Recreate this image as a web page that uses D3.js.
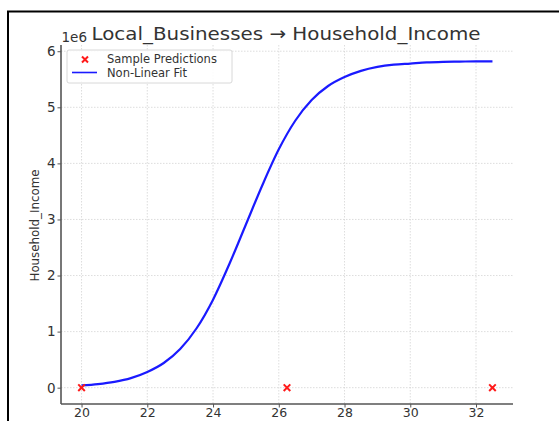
<!DOCTYPE html>
<html>
<head>
<meta charset="utf-8">
<script src="https://cdn.jsdelivr.net/npm/d3@7"></script>
<style>
  html, body { margin: 0; padding: 0; background: #fff; }
  svg { display: block; font-family: "DejaVu Sans", sans-serif; }
</style>
</head>
<body>
<svg id="chart" width="559" height="421"></svg>
<script>
// Fitted curve, sampled every half unit of Local_Businesses (income in millions)
const fitX = [20, 20.5, 21, 21.5, 22, 22.5, 23, 23.5, 24, 24.5, 25, 25.5, 26,
              26.5, 27, 27.5, 28, 28.5, 29, 29.5, 30, 30.5, 31, 31.5, 32, 32.5];
const fitY = [0.04, 0.065, 0.105, 0.17, 0.28, 0.44, 0.69, 1.06, 1.57, 2.21, 2.91, 3.61, 4.25,
              4.76, 5.13, 5.38, 5.54, 5.65, 5.72, 5.76, 5.78, 5.80, 5.81, 5.815, 5.82, 5.82];

// Sample predictions
const sampleX = [20, 26.25, 32.5];
const sampleY = [0, 0, 0];

const xTicks = [20, 22, 24, 26, 28, 30, 32];
const yTicks = [0, 1, 2, 3, 4, 5, 6];

const titleText = "Local_Businesses \u2192 Household_Income";
const yLabel = "Household_Income";
const legendLabels = ["Sample Predictions", "Non-Linear Fit"];

const svg = d3.select("#chart");

// outer frame
svg.append("path")
  .attr("d", "M8,421 L8,11.5 L559,11.5")
  .attr("fill", "none").attr("stroke", "#000").attr("stroke-width", 2);

const plot = { left: 61, right: 513, top: 45, bottom: 404 };

const x = d3.scaleLinear().domain([19.375, 33.125]).range([plot.left, plot.right]);
const y = d3.scaleLinear().domain([-0.291, 6.111]).range([plot.bottom, plot.top]);

// grid
const grid = svg.append("g").attr("stroke", "#d4d4d4").attr("stroke-width", 0.8)
  .attr("stroke-dasharray", "1.5,1.5");
grid.selectAll(".gx").data(xTicks).join("line")
  .attr("x1", d => x(d)).attr("x2", d => x(d))
  .attr("y1", plot.top).attr("y2", plot.bottom);
grid.selectAll(".gy").data(yTicks).join("line")
  .attr("x1", plot.left).attr("x2", plot.right)
  .attr("y1", d => y(d)).attr("y2", d => y(d));

// axes
const xAxis = svg.append("g").attr("transform", `translate(0,${plot.bottom})`)
  .call(d3.axisBottom(x).tickValues(xTicks).tickSize(3.5).tickPadding(1).tickFormat(d3.format("d")));
const yAxis = svg.append("g").attr("transform", `translate(${plot.left},0)`)
  .call(d3.axisLeft(y).tickValues(yTicks).tickSize(3.5).tickPadding(2).tickFormat(d3.format("d")));
[xAxis, yAxis].forEach(a => {
  a.select(".domain").attr("stroke", "#555").attr("stroke-width", 1.6);
  a.selectAll(".tick line").attr("stroke", "#555").attr("stroke-width", 1);
  a.selectAll(".tick text").attr("fill", "#333")
    .style("font-family", "DejaVu Sans, sans-serif");
});
xAxis.selectAll(".tick text").style("font-size", "12.5px");
yAxis.selectAll(".tick text").style("font-size", "13.5px");
xAxis.select(".domain").attr("d", `M${plot.left},0H${plot.right}`);
yAxis.select(".domain").attr("d", `M0,${plot.bottom}V${plot.top}`);

// fitted curve
const line = d3.line().x(d => x(d[0])).y(d => y(d[1])).curve(d3.curveMonotoneX);
svg.append("path")
  .datum(fitX.map((v, i) => [v, fitY[i]]))
  .attr("d", line)
  .attr("fill", "none").attr("stroke", "#1a1aff").attr("stroke-width", 2.2);

// sample markers
const xMark = (cx, cy, r) => `M${cx - r},${cy - r}L${cx + r},${cy + r}M${cx - r},${cy + r}L${cx + r},${cy - r}`;
svg.append("g").selectAll("path").data(sampleX.map((v, i) => [v, sampleY[i]])).join("path")
  .attr("d", d => xMark(x(d[0]), y(d[1]), 3.3))
  .attr("stroke", "#ff1a1a").attr("stroke-width", 2).attr("fill", "none");

// title and offset label
svg.append("text").attr("x", 286).attr("y", 40).attr("text-anchor", "middle")
  .attr("fill", "#333").style("font-size", "18.5px")
  .attr("textLength", 389).attr("lengthAdjust", "spacingAndGlyphs")
  .text(titleText);
svg.append("text").attr("x", 61.5).attr("y", 41.5).attr("fill", "#333")
  .style("font-size", "13.5px").text("1e6");

// y label
svg.append("text")
  .attr("transform", `translate(39,${(plot.top + plot.bottom) / 2 + 1}) rotate(-90)`)
  .attr("text-anchor", "middle").attr("fill", "#333")
  .style("font-size", "12.5px")
  .attr("textLength", 112).attr("lengthAdjust", "spacingAndGlyphs")
  .text(yLabel);

// legend
const lg = svg.append("g");
lg.append("rect").attr("x", 67).attr("y", 50).attr("width", 165).attr("height", 33)
  .attr("rx", 2).attr("fill", "#fff").attr("fill-opacity", 0.85)
  .attr("stroke", "#d8d8d8").attr("stroke-width", 1);
lg.append("path").attr("d", xMark(85, 59.5, 3)).attr("stroke", "#ff1a1a")
  .attr("stroke-width", 2).attr("fill", "none");
lg.append("line").attr("x1", 72).attr("x2", 97).attr("y1", 72.5).attr("y2", 72.5)
  .attr("stroke", "#1a1aff").attr("stroke-width", 1.6);
lg.selectAll("text.lab").data(legendLabels).join("text")
  .attr("x", 107).attr("y", (d, i) => 62.5 + i * 14)
  .attr("fill", "#333").style("font-size", "11.5px").text(d => d);
</script>
</body>
</html>
